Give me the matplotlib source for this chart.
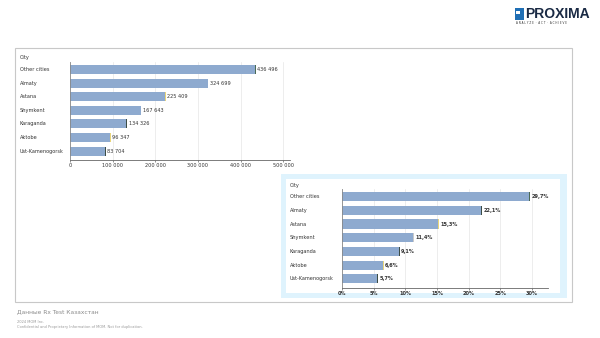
import matplotlib
matplotlib.use("Agg")
import matplotlib.pyplot as plt
from matplotlib.patches import Rectangle

cities = ["Other cities", "Almaty", "Astana", "Shymkent", "Karaganda", "Aktobe", "Ust-Kamenogorsk"]
values = [436496, 324699, 225409, 167643, 134326, 96347, 83704]
shares = [29.7, 22.1, 15.3, 11.4, 9.1, 6.6, 5.7]
end_colors = ["#4a6a55", "#3d4d45", "#e8d57a", "#c9c9c9", "#3d4d45", "#e8d57a", "#3d4d45"]
abs_ticks = [0, 100000, 200000, 300000, 400000, 500000]
pct_ticks = [0, 5, 10, 15, 20, 25, 30]

W, H = 600, 338
fig = plt.figure(figsize=(6, 3.38), dpi=100)
fig.patch.set_facecolor("white")
plt.rcParams["font.family"] = ["DejaVu Sans"]

def fx(x): return x / W
def fy(y): return 1 - y / H

bar_color = "#8eaacf"
txt = "#333333"

# outer frame
fig.add_artist(Rectangle((fx(15), fy(302)), fx(572) - fx(15), fy(48) - fy(302),
                         transform=fig.transFigure, fill=False, edgecolor="#c8c8c8", lw=0.8, zorder=-2))
# light blue box
fig.add_artist(Rectangle((fx(281), fy(298)), fx(567) - fx(281), fy(174) - fy(298),
                         transform=fig.transFigure, facecolor="#dff3fd", edgecolor="none", zorder=-2))
fig.add_artist(Rectangle((fx(286), fy(293)), fx(560) - fx(286), fy(179) - fy(293),
                         transform=fig.transFigure, facecolor="white", edgecolor="none", zorder=-1))

def make_chart(ax_rect, vals, ticks, xmax, fmt_tick, fmt_val, label_x, city_y, bold, cap_frac):
    l, t, r, b = ax_rect
    ax = fig.add_axes([fx(l), fy(b), fx(r) - fx(l), fy(t) - fy(b)])
    ax.set_facecolor("none")
    pos = list(range(len(vals)))
    ax.barh(pos, vals, height=0.66, color=bar_color, zorder=2)
    cap = xmax * cap_frac
    ax.barh(pos, [cap] * len(vals), left=[v - cap for v in vals], height=0.66,
            color=end_colors, zorder=3)
    ax.set_xlim(0, xmax)
    ax.set_ylim(len(vals) - 1 + 0.66, -0.55)
    ax.set_xticks(ticks)
    ax.set_xticklabels([fmt_tick(v) for v in ticks], fontsize=3.6, color=txt,
                       fontweight="bold" if bold else "normal")
    ax.set_yticks([])
    for s in ["top", "right"]:
        ax.spines[s].set_visible(False)
    ax.spines["left"].set_color("#888888")
    ax.spines["left"].set_linewidth(0.6)
    ax.spines["bottom"].set_color("#666666")
    ax.spines["bottom"].set_linewidth(0.6)
    ax.tick_params(axis="x", length=1.5, width=0.5, pad=0.5, colors="#666666", labelcolor=txt)
    ax.grid(axis="x", color="#e6e6e6", lw=0.5, zorder=0)
    for p, v in zip(pos, vals):
        ax.text(v + xmax * 0.006, p, fmt_val(v), fontsize=3.6, va="center", ha="left",
                color=txt, fontweight="bold" if bold else "normal")
    for p, c in zip(pos, cities):
        yy = ax.transData.transform((0, p))[1]
        fig.text(fx(label_x), yy / fig.dpi / fig.get_figheight(), c, fontsize=3.6, va="center",
                 ha="left", color=txt)
    fig.text(fx(label_x), fy(city_y), "City", fontsize=3.6, va="center", ha="left", color=txt)
    return ax

sp = lambda v: f"{v:,}".replace(",", " ")
make_chart((70, 62, 290, 160), values, abs_ticks, 516000, sp, sp, 20, 57, False, 0.004)
make_chart((342, 189, 548, 288), shares, pct_ticks, 32.5,
           lambda v: f"{v}%", lambda v: f"{v:.1f}%".replace(".", ","), 290, 186, True, 0.004)

# footer
fig.text(fx(17), fy(312), "Данные Rx Test Казахстан", fontsize=4.2, color="#8a8a8a", va="center")
fig.text(fx(17), fy(322), "2024 MOM Inc.", fontsize=2.6, color="#9a9a9a", va="center")
fig.text(fx(17), fy(327), "Confidential and Proprietary Information of MOM. Not for duplication.",
         fontsize=2.6, color="#9a9a9a", va="center")

# logo
fig.add_artist(Rectangle((fx(515), fy(20)), fx(9), fy(8) - fy(20), transform=fig.transFigure,
                         facecolor="#1f6fb5", edgecolor="none"))
fig.add_artist(Rectangle((fx(516), fy(14)), fx(4), fy(11) - fy(14), transform=fig.transFigure,
                         facecolor="white", edgecolor="none"))
fig.text(fx(525), fy(14), "PROXIMA", fontsize=10, fontweight="bold", color="#1a2a44",
         va="center", ha="left", family="Liberation Sans")
fig.text(fx(516), fy(23.5), "A N A L Y Z E  ·  A C T  ·  A C H I E V E", fontsize=2.0, color="#333333",
         va="center", ha="left")

fig.savefig("out.png", dpi=100)
